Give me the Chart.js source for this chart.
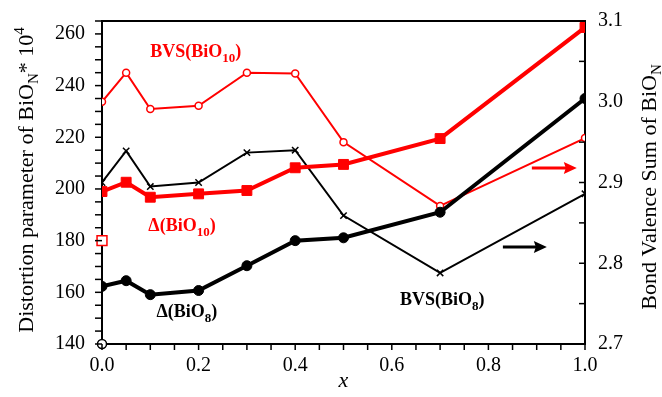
<!DOCTYPE html>
<html><head><meta charset="utf-8">
<script src="https://cdn.jsdelivr.net/npm/chart.js@4"></script>
<style>html,body{margin:0;padding:0;background:#fff;}#wrap{width:662px;height:397px;position:relative;}</style>
</head><body><div id="wrap"><canvas id="c"></canvas></div>
<script>
// ---- data ----
const xValues    = [0, 0.05, 0.1, 0.2, 0.3, 0.4, 0.5, 0.7, 1.0];
const deltaBiO8  = [162.3, 164.5, 159.1, 160.7, 170.3, 180.0, 181.1, 191.0, 235.0];
const deltaBiO10 = [199.0, 202.6, 196.8, 198.1, 199.4, 208.2, 209.5, 219.5, 262.5];
const bvsBiO10   = [3.000, 3.036, 2.991, 2.995, 3.036, 3.035, 2.950, 2.871, 2.955];
const bvsBiO8    = [2.900, 2.939, 2.895, 2.900, 2.937, 2.940, 2.859, 2.788, 2.886];
const openSquareX = [0];   const openSquareY = [180];
const openCircleX = [0];   const openCircleY = [140];
const leftTickLabels  = [140, 160, 180, 200, 220, 240, 260];
const rightTickLabels = [2.7, 2.8, 2.9, 3.0, 3.1];
const xTickLabels     = [0.0, 0.2, 0.4, 0.6, 0.8, 1.0];

const RED = '#ff0000', BLACK = '#000000';
const FONT = "'Liberation Serif', 'Times New Roman', serif";
Chart.defaults.font.family = FONT;
Chart.defaults.color = '#000';

const pts = (xs, ys) => xs.map((x, i) => ({x: x, y: ys[i]}));
const has = (arr, v) => arr.some(a => Math.abs(a - v) < 1e-6);

function drawRich(ctx, parts, x, y, align) {
  // parts: [text, size, dy, weight, style]
  let w = 0;
  parts.forEach(p => { ctx.font = `${p[4]||'normal'} ${p[3]||'normal'} ${p[1]}px ${FONT}`; w += ctx.measureText(p[0]).width; });
  let cx = align === 'center' ? x - w / 2 : x;
  ctx.textBaseline = 'alphabetic'; ctx.textAlign = 'left';
  parts.forEach(p => {
    ctx.font = `${p[4]||'normal'} ${p[3]||'normal'} ${p[1]}px ${FONT}`;
    ctx.fillText(p[0], cx, y + p[2]);
    cx += ctx.measureText(p[0]).width;
  });
}

const decor = {
  id: 'decor',
  afterDraw(chart) {
    const ctx = chart.ctx, a = chart.chartArea;
    const sx = chart.scales.x, sy = chart.scales.y, sr = chart.scales.y1;
    ctx.save();
    // top border
    ctx.strokeStyle = BLACK; ctx.lineWidth = 2;
    ctx.beginPath(); ctx.moveTo(a.left - 1, a.top); ctx.lineTo(a.right + 1, a.top); ctx.stroke();
    // tick marks
    ctx.lineWidth = 1.5;
    sy.ticks.forEach(t => { const p = sy.getPixelForValue(t.value); ctx.beginPath(); ctx.moveTo(a.left - 7, p); ctx.lineTo(a.left, p); ctx.stroke(); });
    sr.ticks.forEach(t => { const p = sr.getPixelForValue(t.value); ctx.beginPath(); ctx.moveTo(a.right - 6, p); ctx.lineTo(a.right, p); ctx.stroke(); });
    sx.ticks.forEach(t => { const p = sx.getPixelForValue(t.value); ctx.beginPath(); ctx.moveTo(p, a.bottom); ctx.lineTo(p, a.bottom + 6); ctx.stroke(); });

    // axis titles
    ctx.fillStyle = BLACK;
    ctx.save(); ctx.translate(33, 180); ctx.rotate(-Math.PI / 2);
    drawRich(ctx, [['Distortion parameter of BiO', 22, 0], ['N', 15, 5], ['* 10', 22, 0], ['4', 15, -9]], 0, 0, 'center');
    ctx.restore();
    ctx.save(); ctx.translate(656, 187); ctx.rotate(-Math.PI / 2);
    drawRich(ctx, [['Bond Valence Sum of BiO', 22, 0], ['N', 15, 5]], 0, 0, 'center');
    ctx.restore();
    drawRich(ctx, [['x', 22, 0, 'normal', 'italic']], (a.left + a.right) / 2, 387, 'center');

    // series labels (placed in data coordinates)
    const X = v => sx.getPixelForValue(v), L = v => sy.getPixelForValue(v), R = v => sr.getPixelForValue(v);
    ctx.fillStyle = RED;
    drawRich(ctx, [['BVS(BiO', 18, 0, 'bold'], ['10', 13, 5, 'bold'], [')', 18, 0, 'bold']], X(0.100), L(251), 'left');
    drawRich(ctx, [['\u0394(BiO', 18, 0, 'bold'], ['10', 13, 5, 'bold'], [')', 18, 0, 'bold']], X(0.096), L(183.6), 'left');
    ctx.fillStyle = BLACK;
    drawRich(ctx, [['\u0394(BiO', 18, 0, 'bold'], ['8', 13, 5, 'bold'], [')', 18, 0, 'bold']], X(0.113), L(150.5), 'left');
    drawRich(ctx, [['BVS(BiO', 18, 0, 'bold'], ['8', 13, 5, 'bold'], [')', 18, 0, 'bold']], X(0.617), L(155.1), 'left');

    // arrows
    function arrow(x0, x1, y, col) {
      ctx.strokeStyle = col; ctx.fillStyle = col; ctx.lineWidth = 3;
      ctx.beginPath(); ctx.moveTo(x0, y); ctx.lineTo(x1 - 10, y); ctx.stroke();
      ctx.beginPath(); ctx.moveTo(x1, y); ctx.lineTo(x1 - 13, y - 6); ctx.lineTo(x1 - 11, y); ctx.lineTo(x1 - 13, y + 6); ctx.closePath(); ctx.fill();
    }
    arrow(X(0.890), X(0.983), R(2.918), RED);
    arrow(X(0.830), X(0.921), R(2.820), BLACK);
    ctx.restore();
  }
};

const hiddenTickGrid = len => ({ display: true, drawOnChartArea: false, drawTicks: true, tickLength: len, tickColor: 'rgba(0,0,0,0)' });

new Chart(document.getElementById('c'), {
  type: 'line',
  data: {
    datasets: [
      { label: 'Δ(BiO8)', data: pts(xValues, deltaBiO8), yAxisID: 'y', borderColor: BLACK, backgroundColor: BLACK,
        borderWidth: 4, pointStyle: 'circle', pointRadius: 5, pointBackgroundColor: BLACK, pointBorderColor: BLACK, pointBorderWidth: 1 },
      { label: 'Δ(BiO10)', data: pts(xValues, deltaBiO10), yAxisID: 'y', borderColor: RED, backgroundColor: RED,
        borderWidth: 4, pointStyle: 'rect', pointRadius: 7, pointBackgroundColor: RED, pointBorderColor: RED, pointBorderWidth: 1 },
      { label: 'BVS(BiO10)', data: pts(xValues, bvsBiO10), yAxisID: 'y1', borderColor: RED, backgroundColor: '#fff',
        borderWidth: 2, pointStyle: 'circle', pointRadius: 3.5, pointBackgroundColor: '#fff', pointBorderColor: RED, pointBorderWidth: 1.5 },
      { label: 'BVS(BiO8)', data: pts(xValues, bvsBiO8), yAxisID: 'y1', borderColor: BLACK, backgroundColor: BLACK,
        borderWidth: 2, pointStyle: 'crossRot', pointRadius: 4.5, pointBorderColor: BLACK, pointBorderWidth: 1.5 },
      { label: 'open square', data: pts(openSquareX, openSquareY), yAxisID: 'y', showLine: false, clip: false,
        pointStyle: 'rect', pointRadius: 7, pointBackgroundColor: '#fff', pointBorderColor: RED, pointBorderWidth: 1.5 },
      { label: 'open circle', data: pts(openCircleX, openCircleY), yAxisID: 'y', showLine: false, clip: false,
        pointStyle: 'circle', pointRadius: 4.5, pointBackgroundColor: '#fff', pointBorderColor: BLACK, pointBorderWidth: 1.5 }
    ]
  },
  options: {
    responsive: true, maintainAspectRatio: false, animation: false,
    layout: { padding: { top: 21, left: 0, right: 0, bottom: 0 } },
    plugins: { legend: { display: false }, tooltip: { enabled: false } },
    elements: { line: { tension: 0 } },
    scales: {
      x: { type: 'linear', min: 0, max: 1,
        afterFit: s => { s.height = 53; },
        grid: hiddenTickGrid(10),
        border: { display: true, color: BLACK, width: 2 },
        ticks: { stepSize: 0.05, autoSkip: false, maxRotation: 0, padding: 0, font: { size: 20 },
          callback: v => has(xTickLabels, v) ? v.toFixed(1) : '' } },
      y: { type: 'linear', position: 'left', min: 140, max: 265,
        afterFit: s => { s.width = 102; },
        grid: hiddenTickGrid(17),
        border: { display: true, color: BLACK, width: 2 },
        ticks: { stepSize: 5, autoSkip: false, padding: 0, font: { size: 20 },
          callback: v => has(leftTickLabels, v) ? String(v) : '' } },
      y1: { type: 'linear', position: 'right', min: 2.7, max: 3.1,
        afterFit: s => { s.width = 77; },
        grid: hiddenTickGrid(13),
        border: { display: true, color: BLACK, width: 2 },
        ticks: { stepSize: 0.05, autoSkip: false, padding: 0, font: { size: 20 },
          callback: v => has(rightTickLabels, v) ? v.toFixed(1) : '' } }
    }
  },
  plugins: [decor]
});
</script></body></html>
